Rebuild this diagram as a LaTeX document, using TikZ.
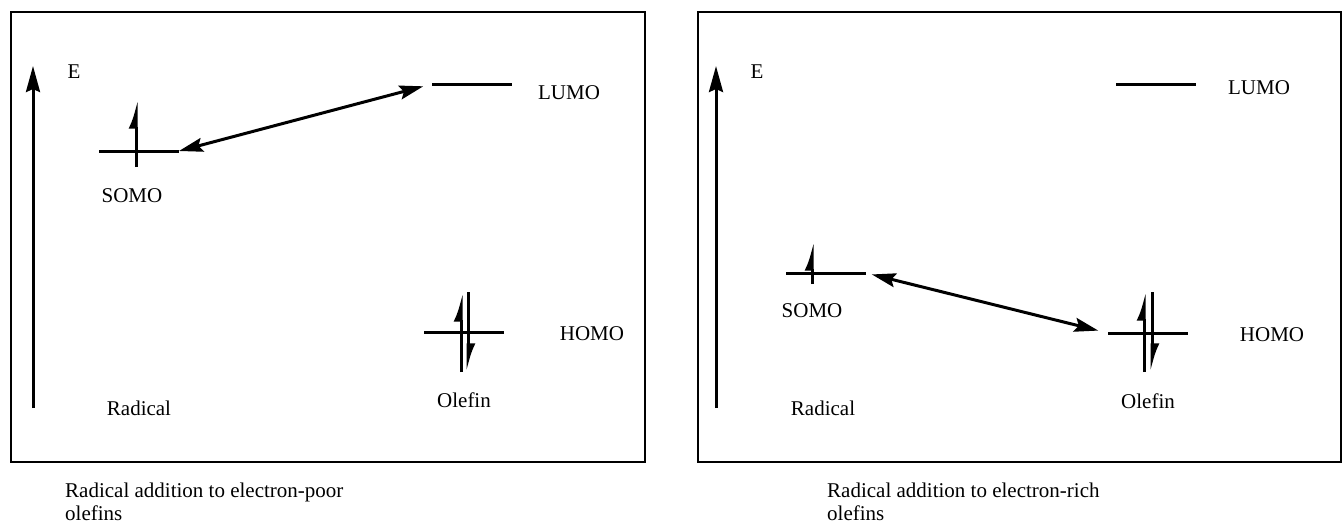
\documentclass[tikz,border=0pt]{standalone}
\usepackage{fontspec}
\setmainfont{Liberation Serif}
\usetikzlibrary{arrows.meta}

\begin{document}
\begin{tikzpicture}[
        x=1pt, y=-1pt,
        every node/.style={font=\fontsize{21}{23}\selectfont, inner sep=0pt},
        panel/.style={draw, line width=2.5pt},
        axis/.style={line width=3pt, -{Stealth[length=26pt, width=14pt, inset=3pt]}},
        orbital/.style={line width=3pt},
        spin/.style={line width=3pt, -{Latex[left, length=22pt, width=15pt]}},
        couple/.style={line width=3pt,
            {Stealth[length=24pt, width=14pt, inset=4pt]}-{Stealth[length=24pt, width=14pt, inset=4pt]}},
        caption/.style={anchor=north west, align=left},
    ]
    \useasboundingbox (0,0) rectangle (1343,525);

    \draw[panel] (11,12) rectangle (645,462);
    \coordinate (axisL-s) at (33,408);
    \coordinate (axisL-n) at (33,66);
    \draw[axis] (axisL-s) -- (axisL-n);
    \node (eL) at (74,72) {E};
    \coordinate (somoL-w) at (99,151);
    \coordinate (somoL-e) at (179,151);
    \draw[orbital] (somoL-w) -- (somoL-e);
    \draw[spin] (136,167) -- (136,100);
    \node (somoLabelL) at (132,196) {SOMO};
    \coordinate (lumoL-w) at (432,84);
    \coordinate (lumoL-e) at (512,84);
    \draw[orbital] (lumoL-w) -- (lumoL-e);
    \node (lumoLabelL) at (569,93) {LUMO};
    \draw[couple, shorten >=9pt] (somoL-e) -- (lumoL-w);
    \coordinate (homoL-w) at (424,332);
    \coordinate (homoL-e) at (504,332);
    \draw[orbital] (homoL-w) -- (homoL-e);
    \draw[spin] (461,372) -- (461,293);
    \draw[spin] (468,292) -- (468,372);
    \node (homoLabelL) at (592,334) {HOMO};
    \node (olefinL) at (464,400) {Olefin};
    \node (radicalL) at (139,408) {Radical};
    \node[caption] (captionL) at (65,483) {Radical addition to electron-poor\\olefins};

    \draw[panel] (698,12) rectangle (1341,462);
    \coordinate (axisR-s) at (716,408);
    \coordinate (axisR-n) at (716,66);
    \draw[axis] (axisR-s) -- (axisR-n);
    \node (eR) at (757,72) {E};
    \coordinate (somoR-w) at (786,273);
    \coordinate (somoR-e) at (866,273);
    \draw[orbital] (somoR-w) -- (somoR-e);
    \draw[spin] (812,284) -- (812,242);
    \node (somoLabelR) at (812,311) {SOMO};
    \coordinate (lumoR-w) at (1116,84);
    \coordinate (lumoR-e) at (1196,84);
    \draw[orbital] (lumoR-w) -- (lumoR-e);
    \node (lumoLabelR) at (1259,88) {LUMO};
    \coordinate (homoR-w) at (1108,333);
    \coordinate (homoR-e) at (1188,333);
    \draw[orbital] (homoR-w) -- (homoR-e);
    \draw[spin] (1144,372) -- (1144,292);
    \draw[spin] (1152,292) -- (1152,372);
    \draw[couple, shorten <=6pt, shorten >=10pt] (somoR-e) -- (homoR-w);
    \node (homoLabelR) at (1272,335) {HOMO};
    \node (olefinR) at (1148,401) {Olefin};
    \node (radicalR) at (823,408) {Radical};
    \node[caption] (captionR) at (827,483) {Radical addition to electron-rich\\olefins};
\end{tikzpicture}
\end{document}
